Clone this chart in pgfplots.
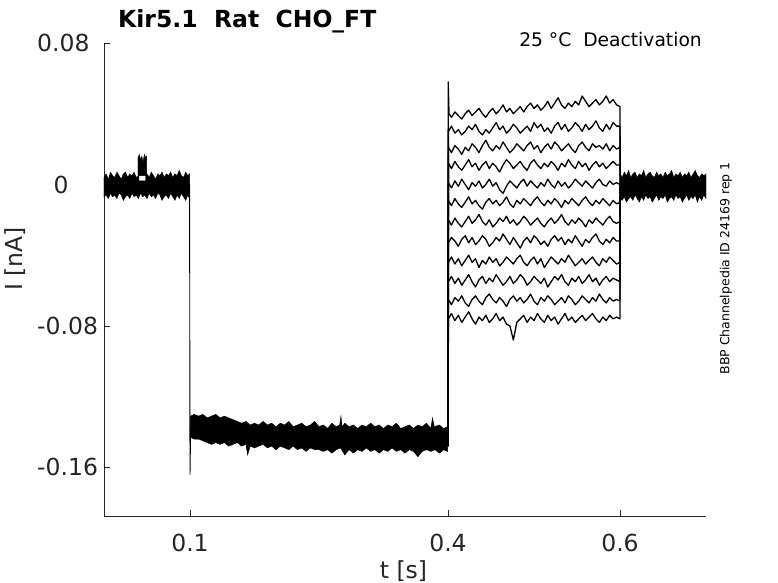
\documentclass[border=0pt]{standalone}
\usepackage{pgfplots}
\pgfplotsset{compat=1.18}
\usepackage{fontspec}
\setmainfont{DejaVu Sans}
\definecolor{axgray}{RGB}{38,38,38}
\newcommand\tickfont{\fontsize{23.5bp}{28bp}\selectfont}
\pgfplotsset{tr/.style={draw=black, line width=1.3bp, mark=none, line join=round},
             step/.style={draw=black, line width=0.9bp, mark=none, line join=round},
             band/.style={fill=black, draw=black, line width=0.4bp, mark=none}}
\begin{document}
\begin{tikzpicture}
\useasboundingbox (-104bp,-67bp) rectangle (674bp,516bp);
\begin{axis}[
  at={(0,0)}, anchor=south west,
  scale only axis, width=602bp, height=473bp,
  xmin=0, xmax=0.7, ymin=-0.1875, ymax=0.08,
  clip=false,
  axis lines=left,
  axis line style={-, draw=axgray, line width=0.6bp},
  tick align=inside,
  major tick length=6bp,
  tick style={draw=axgray, line width=0.6bp},
  xtick={0.1,0.4,0.6}, xticklabels={0.1,0.4,0.6},
  ytick={-0.16,-0.08,0,0.08},
  yticklabels={-0.16,-0.08,\hspace*{16.5bp}0,0.08},
  xticklabel style={font=\tickfont, text=axgray, inner sep=0pt, anchor=north, yshift=-18bp},
  yticklabel style={font=\tickfont, text=axgray, inner sep=0pt, anchor=west, xshift=-67bp},
  xlabel={t [s]},
  ylabel={I [nA]},
  every axis x label/.style={at={(axis description cs:0.4975,-0.1311)}, anchor=base, inner sep=0pt, font=\tickfont, text=axgray},
  every axis y label/.style={at={(axis description cs:-0.1362,0.5433)}, rotate=90, anchor=base, inner sep=0pt, font=\tickfont, text=axgray},
  title={Kir5.1~~Rat~~CHO\_FT},
  every axis title/.style={at={(axis description cs:0.02326,1.0338)}, anchor=base west, inner sep=0pt, font=\bfseries\tickfont, text=black},
]
% baseline band 0 - 0.1
\addplot[band] coordinates {(0,0.004)(0.0025,0.006)(0.005,0.003)(0.0075,0.007)(0.010,0.005)(0.0125,0.004)(0.015,0.007)(0.0175,0.005)(0.020,0.003)(0.0225,0.006)(0.025,0.007)(0.0275,0.004)(0.030,0.006)(0.0325,0.005)(0.035,0.007)(0.0375,0.004)(0.0405,0.005)(0.0405,0.002)(0.0485,0.002)(0.0485,0.005)(0.050,0.006)(0.0525,0.004)(0.055,0.007)(0.0575,0.005)(0.060,0.003)(0.0625,0.006)(0.065,0.005)(0.0675,0.007)(0.070,0.004)(0.0725,0.006)(0.075,0.005)(0.0775,0.007)(0.080,0.004)(0.0825,0.006)(0.085,0.005)(0.0875,0.008)(0.090,0.005)(0.0925,0.004)(0.095,0.007)(0.0975,0.005)(0.0995,0.006)
(0.0995,-0.008)(0.0975,-0.006)(0.095,-0.009)(0.0925,-0.007)(0.090,-0.005)(0.0875,-0.008)(0.085,-0.006)(0.0825,-0.009)(0.080,-0.007)(0.0775,-0.005)(0.075,-0.008)(0.0725,-0.006)(0.070,-0.007)(0.0675,-0.009)(0.065,-0.006)(0.0625,-0.005)(0.060,-0.008)(0.0575,-0.006)(0.055,-0.007)(0.0525,-0.005)(0.050,-0.008)(0.0475,-0.006)(0.045,-0.007)(0.0425,-0.005)(0.040,-0.008)(0.0375,-0.006)(0.035,-0.007)(0.0325,-0.005)(0.030,-0.008)(0.0275,-0.006)(0.025,-0.007)(0.0225,-0.009)(0.020,-0.006)(0.0175,-0.005)(0.015,-0.008)(0.0125,-0.006)(0.010,-0.007)(0.0075,-0.005)(0.005,-0.008)(0.0025,-0.006)(0,-0.007)} --cycle;
% bump
\addplot[band] coordinates {(0.0395,0.0050)(0.0395,0.015)(0.041,0.017)(0.0425,0.014)(0.044,0.016)(0.0455,0.013)(0.047,0.017)(0.0485,0.015)(0.0495,0.016)(0.0495,0.0050)} --cycle;
% step at 0.1
\addplot[step] coordinates {(0.0995,0.0)(0.1,-0.164)(0.1008,-0.138)};
% holding band 0.1 - 0.4
\addplot[band] coordinates {(0.1005,-0.131)(0.105,-0.130)(0.110,-0.131)(0.115,-0.130)(0.120,-0.132)(0.125,-0.131)(0.130,-0.130)(0.135,-0.132)(0.140,-0.131)(0.145,-0.132)(0.150,-0.133)(0.155,-0.134)(0.160,-0.135)(0.165,-0.134)(0.170,-0.136)(0.175,-0.135)(0.180,-0.136)(0.185,-0.134)(0.190,-0.136)(0.195,-0.135)(0.200,-0.137)(0.205,-0.135)(0.210,-0.136)(0.215,-0.134)(0.220,-0.137)(0.225,-0.136)(0.230,-0.135)(0.235,-0.137)(0.240,-0.136)(0.245,-0.134)(0.250,-0.137)(0.255,-0.136)(0.260,-0.138)(0.265,-0.135)(0.270,-0.137)(0.274,-0.136)(0.2755,-0.131)(0.277,-0.137)(0.280,-0.135)(0.285,-0.137)(0.290,-0.136)(0.295,-0.138)(0.300,-0.136)(0.305,-0.137)(0.310,-0.135)(0.315,-0.137)(0.320,-0.136)(0.325,-0.138)(0.330,-0.136)(0.335,-0.137)(0.340,-0.135)(0.345,-0.138)(0.350,-0.137)(0.355,-0.136)(0.360,-0.138)(0.365,-0.136)(0.370,-0.137)(0.375,-0.135)(0.380,-0.138)(0.382,-0.132)(0.384,-0.137)(0.390,-0.136)(0.395,-0.138)(0.3995,-0.137)
(0.3995,-0.151)(0.395,-0.150)(0.390,-0.152)(0.385,-0.150)(0.380,-0.151)(0.375,-0.150)(0.370,-0.151)(0.365,-0.154)(0.360,-0.151)(0.355,-0.150)(0.350,-0.152)(0.345,-0.150)(0.340,-0.151)(0.335,-0.149)(0.330,-0.151)(0.325,-0.150)(0.320,-0.152)(0.315,-0.150)(0.310,-0.151)(0.305,-0.149)(0.300,-0.151)(0.295,-0.150)(0.290,-0.152)(0.285,-0.150)(0.280,-0.153)(0.275,-0.149)(0.270,-0.150)(0.265,-0.152)(0.260,-0.150)(0.255,-0.151)(0.250,-0.150)(0.245,-0.150)(0.240,-0.149)(0.235,-0.151)(0.230,-0.149)(0.225,-0.150)(0.220,-0.148)(0.215,-0.150)(0.210,-0.149)(0.205,-0.148)(0.200,-0.150)(0.195,-0.148)(0.190,-0.149)(0.185,-0.147)(0.180,-0.148)(0.175,-0.149)(0.170,-0.148)(0.167,-0.153)(0.165,-0.147)(0.160,-0.148)(0.155,-0.146)(0.150,-0.147)(0.145,-0.148)(0.140,-0.146)(0.135,-0.147)(0.130,-0.146)(0.125,-0.147)(0.120,-0.146)(0.115,-0.145)(0.110,-0.144)(0.105,-0.144)(0.1005,-0.143)} --cycle;
% baseline band 0.6 - 0.7
\addplot[band] coordinates {(0.6003,0.006)(0.6025,0.004)(0.605,0.007)(0.6075,0.005)(0.610,0.008)(0.6125,0.004)(0.615,0.006)(0.6175,0.007)(0.620,0.004)(0.6225,0.006)(0.625,0.005)(0.6275,0.008)(0.630,0.004)(0.6325,0.006)(0.635,0.007)(0.6375,0.005)(0.640,0.004)(0.6425,0.007)(0.645,0.005)(0.6475,0.006)(0.650,0.004)(0.6525,0.007)(0.655,0.005)(0.6575,0.006)(0.660,0.008)(0.6625,0.004)(0.665,0.006)(0.6675,0.005)(0.670,0.007)(0.6725,0.004)(0.675,0.006)(0.6775,0.005)(0.680,0.007)(0.6825,0.004)(0.685,0.006)(0.6875,0.008)(0.690,0.005)(0.6925,0.004)(0.695,0.006)(0.6975,0.005)(0.700,0.006)
(0.700,-0.008)(0.6975,-0.006)(0.695,-0.009)(0.6925,-0.007)(0.690,-0.010)(0.6875,-0.006)(0.685,-0.008)(0.6825,-0.007)(0.680,-0.009)(0.6775,-0.006)(0.675,-0.008)(0.6725,-0.010)(0.670,-0.007)(0.6675,-0.008)(0.665,-0.006)(0.6625,-0.009)(0.660,-0.007)(0.6575,-0.008)(0.655,-0.010)(0.6525,-0.006)(0.650,-0.008)(0.6475,-0.007)(0.645,-0.009)(0.6425,-0.006)(0.640,-0.008)(0.6375,-0.010)(0.635,-0.007)(0.6325,-0.008)(0.630,-0.006)(0.6275,-0.009)(0.625,-0.007)(0.6225,-0.010)(0.620,-0.008)(0.6175,-0.006)(0.615,-0.009)(0.6125,-0.007)(0.610,-0.008)(0.6075,-0.010)(0.605,-0.007)(0.6025,-0.009)(0.6003,-0.008)} --cycle;
% deactivation traces
\addplot[tr] coordinates {(0.400,-0.148)(0.4002,0.058)(0.4012,0.040)(0.404,0.038)(0.408,0.041)(0.412,0.039)(0.416,0.037)(0.420,0.040)(0.424,0.042)(0.428,0.039)(0.432,0.041)(0.436,0.043)(0.440,0.040)(0.444,0.038)(0.448,0.041)(0.452,0.043)(0.456,0.040)(0.460,0.042)(0.464,0.045)(0.468,0.041)(0.472,0.043)(0.476,0.040)(0.480,0.042)(0.484,0.044)(0.488,0.041)(0.492,0.044)(0.496,0.046)(0.500,0.043)(0.504,0.045)(0.508,0.042)(0.512,0.044)(0.516,0.047)(0.520,0.043)(0.524,0.046)(0.528,0.049)(0.532,0.045)(0.536,0.043)(0.540,0.046)(0.544,0.044)(0.548,0.047)(0.552,0.045)(0.556,0.050)(0.560,0.047)(0.564,0.044)(0.568,0.046)(0.572,0.048)(0.576,0.045)(0.580,0.047)(0.584,0.050)(0.588,0.046)(0.592,0.048)(0.596,0.045)(0.600,0.044)(0.6003,0.0)};
\addplot[tr] coordinates {(0.400,-0.148)(0.4005,0.030)(0.404,0.033)(0.408,0.029)(0.412,0.031)(0.416,0.028)(0.420,0.030)(0.424,0.033)(0.428,0.031)(0.432,0.034)(0.436,0.030)(0.440,0.028)(0.444,0.031)(0.448,0.029)(0.452,0.032)(0.456,0.035)(0.460,0.031)(0.464,0.033)(0.468,0.029)(0.472,0.031)(0.476,0.034)(0.480,0.032)(0.484,0.029)(0.488,0.031)(0.492,0.033)(0.496,0.030)(0.500,0.035)(0.504,0.032)(0.508,0.034)(0.512,0.030)(0.516,0.032)(0.520,0.029)(0.524,0.033)(0.528,0.035)(0.532,0.031)(0.536,0.034)(0.540,0.030)(0.544,0.032)(0.548,0.035)(0.552,0.033)(0.556,0.030)(0.560,0.034)(0.564,0.031)(0.568,0.033)(0.572,0.036)(0.576,0.032)(0.580,0.030)(0.584,0.034)(0.588,0.031)(0.592,0.035)(0.596,0.033)(0.600,0.033)(0.6003,0.0)};
\addplot[tr] coordinates {(0.400,-0.148)(0.4005,0.021)(0.404,0.018)(0.408,0.022)(0.412,0.020)(0.416,0.017)(0.420,0.021)(0.424,0.019)(0.428,0.023)(0.432,0.021)(0.436,0.018)(0.440,0.022)(0.444,0.025)(0.448,0.021)(0.452,0.019)(0.456,0.022)(0.460,0.020)(0.464,0.024)(0.468,0.021)(0.472,0.018)(0.476,0.020)(0.480,0.023)(0.484,0.021)(0.488,0.019)(0.492,0.022)(0.496,0.024)(0.500,0.020)(0.504,0.022)(0.508,0.018)(0.512,0.021)(0.516,0.023)(0.520,0.020)(0.524,0.024)(0.528,0.022)(0.532,0.019)(0.536,0.021)(0.540,0.023)(0.544,0.020)(0.548,0.018)(0.552,0.022)(0.556,0.024)(0.560,0.021)(0.564,0.019)(0.568,0.023)(0.572,0.021)(0.576,0.022)(0.580,0.020)(0.584,0.023)(0.588,0.019)(0.592,0.022)(0.596,0.020)(0.600,0.021)(0.6003,0.0)};
\addplot[tr] coordinates {(0.400,-0.148)(0.4005,0.012)(0.404,0.009)(0.408,0.013)(0.412,0.010)(0.416,0.008)(0.420,0.011)(0.424,0.014)(0.428,0.010)(0.432,0.012)(0.436,0.008)(0.440,0.011)(0.444,0.013)(0.448,0.009)(0.452,0.012)(0.456,0.010)(0.460,0.007)(0.464,0.011)(0.468,0.014)(0.472,0.012)(0.476,0.009)(0.480,0.011)(0.484,0.013)(0.488,0.010)(0.492,0.008)(0.496,0.012)(0.500,0.014)(0.504,0.011)(0.508,0.009)(0.512,0.012)(0.516,0.010)(0.520,0.013)(0.524,0.011)(0.528,0.008)(0.532,0.012)(0.536,0.010)(0.540,0.014)(0.544,0.011)(0.548,0.009)(0.552,0.013)(0.556,0.010)(0.560,0.012)(0.564,0.008)(0.568,0.011)(0.572,0.013)(0.576,0.010)(0.580,0.012)(0.584,0.009)(0.588,0.011)(0.592,0.013)(0.596,0.011)(0.600,0.011)(0.6003,0.0)};
\addplot[tr] coordinates {(0.400,-0.148)(0.4005,0.001)(0.404,-0.002)(0.408,0.002)(0.412,-0.001)(0.416,0.003)(0.420,0.000)(0.424,-0.003)(0.428,0.001)(0.432,-0.001)(0.436,0.002)(0.440,-0.002)(0.444,0.000)(0.448,0.003)(0.452,-0.001)(0.456,0.001)(0.460,-0.003)(0.464,-0.005)(0.468,-0.001)(0.472,0.002)(0.476,0.000)(0.480,-0.002)(0.484,0.001)(0.488,0.003)(0.492,-0.001)(0.496,0.002)(0.500,0.000)(0.504,-0.002)(0.508,0.001)(0.512,-0.001)(0.516,0.003)(0.520,0.000)(0.524,-0.002)(0.528,0.002)(0.532,-0.001)(0.536,0.001)(0.540,-0.002)(0.544,0.000)(0.548,0.003)(0.552,0.001)(0.556,-0.001)(0.560,0.002)(0.564,0.000)(0.568,-0.002)(0.572,0.001)(0.576,0.003)(0.580,0.000)(0.584,-0.001)(0.588,0.002)(0.592,0.000)(0.596,0.001)(0.600,0.000)(0.6003,0.0)};
\addplot[tr] coordinates {(0.400,-0.148)(0.4005,-0.009)(0.404,-0.012)(0.408,-0.008)(0.412,-0.011)(0.416,-0.013)(0.420,-0.010)(0.424,-0.007)(0.428,-0.011)(0.432,-0.009)(0.436,-0.012)(0.440,-0.014)(0.444,-0.010)(0.448,-0.008)(0.452,-0.011)(0.456,-0.009)(0.460,-0.012)(0.464,-0.010)(0.468,-0.007)(0.472,-0.011)(0.476,-0.013)(0.480,-0.009)(0.484,-0.011)(0.488,-0.008)(0.492,-0.010)(0.496,-0.012)(0.500,-0.009)(0.504,-0.007)(0.508,-0.010)(0.512,-0.012)(0.516,-0.009)(0.520,-0.011)(0.524,-0.008)(0.528,-0.010)(0.532,-0.013)(0.536,-0.009)(0.540,-0.011)(0.544,-0.008)(0.548,-0.010)(0.552,-0.012)(0.556,-0.009)(0.560,-0.007)(0.564,-0.010)(0.568,-0.012)(0.572,-0.009)(0.576,-0.011)(0.580,-0.008)(0.584,-0.010)(0.588,-0.012)(0.592,-0.009)(0.596,-0.011)(0.600,-0.010)(0.6003,0.0)};
\addplot[tr] coordinates {(0.400,-0.148)(0.4005,-0.020)(0.404,-0.023)(0.408,-0.019)(0.412,-0.022)(0.416,-0.024)(0.420,-0.021)(0.424,-0.018)(0.428,-0.022)(0.432,-0.020)(0.436,-0.017)(0.440,-0.021)(0.444,-0.023)(0.448,-0.020)(0.452,-0.024)(0.456,-0.022)(0.460,-0.019)(0.464,-0.021)(0.468,-0.018)(0.472,-0.022)(0.476,-0.020)(0.480,-0.023)(0.484,-0.021)(0.488,-0.018)(0.492,-0.020)(0.496,-0.023)(0.500,-0.021)(0.504,-0.019)(0.508,-0.022)(0.512,-0.024)(0.516,-0.021)(0.520,-0.019)(0.524,-0.022)(0.528,-0.020)(0.532,-0.017)(0.536,-0.021)(0.540,-0.023)(0.544,-0.020)(0.548,-0.022)(0.552,-0.019)(0.556,-0.021)(0.560,-0.024)(0.564,-0.020)(0.568,-0.022)(0.572,-0.019)(0.576,-0.021)(0.580,-0.023)(0.584,-0.020)(0.588,-0.018)(0.592,-0.021)(0.596,-0.022)(0.600,-0.021)(0.6003,0.0)};
\addplot[tr] coordinates {(0.400,-0.148)(0.4005,-0.033)(0.404,-0.030)(0.408,-0.032)(0.412,-0.035)(0.416,-0.031)(0.420,-0.029)(0.424,-0.033)(0.428,-0.030)(0.432,-0.034)(0.436,-0.032)(0.440,-0.029)(0.444,-0.031)(0.448,-0.035)(0.452,-0.033)(0.456,-0.030)(0.460,-0.032)(0.464,-0.028)(0.468,-0.031)(0.472,-0.034)(0.476,-0.030)(0.480,-0.033)(0.484,-0.036)(0.488,-0.032)(0.492,-0.030)(0.496,-0.033)(0.500,-0.029)(0.504,-0.031)(0.508,-0.034)(0.512,-0.032)(0.516,-0.035)(0.520,-0.031)(0.524,-0.029)(0.528,-0.032)(0.532,-0.030)(0.536,-0.034)(0.540,-0.031)(0.544,-0.033)(0.548,-0.029)(0.552,-0.032)(0.556,-0.035)(0.560,-0.031)(0.564,-0.033)(0.568,-0.030)(0.572,-0.028)(0.576,-0.032)(0.580,-0.034)(0.584,-0.031)(0.588,-0.033)(0.592,-0.030)(0.596,-0.032)(0.600,-0.032)(0.6003,0.0)};
\addplot[tr] coordinates {(0.400,-0.148)(0.4005,-0.044)(0.404,-0.041)(0.408,-0.045)(0.412,-0.042)(0.416,-0.046)(0.420,-0.043)(0.424,-0.040)(0.428,-0.044)(0.432,-0.042)(0.436,-0.047)(0.440,-0.043)(0.444,-0.045)(0.448,-0.041)(0.452,-0.044)(0.456,-0.042)(0.460,-0.046)(0.464,-0.044)(0.468,-0.041)(0.472,-0.043)(0.476,-0.045)(0.480,-0.042)(0.484,-0.040)(0.488,-0.044)(0.492,-0.046)(0.496,-0.043)(0.500,-0.041)(0.504,-0.045)(0.508,-0.042)(0.512,-0.047)(0.516,-0.044)(0.520,-0.041)(0.524,-0.043)(0.528,-0.045)(0.532,-0.042)(0.536,-0.044)(0.540,-0.040)(0.544,-0.043)(0.548,-0.046)(0.552,-0.044)(0.556,-0.042)(0.560,-0.045)(0.564,-0.043)(0.568,-0.041)(0.572,-0.044)(0.576,-0.046)(0.580,-0.042)(0.584,-0.044)(0.588,-0.041)(0.592,-0.043)(0.596,-0.045)(0.600,-0.044)(0.6003,0.0)};
\addplot[tr] coordinates {(0.400,-0.148)(0.4005,-0.055)(0.404,-0.052)(0.408,-0.056)(0.412,-0.053)(0.416,-0.057)(0.420,-0.054)(0.424,-0.051)(0.428,-0.055)(0.432,-0.058)(0.436,-0.054)(0.440,-0.052)(0.444,-0.056)(0.448,-0.053)(0.452,-0.055)(0.456,-0.051)(0.460,-0.054)(0.464,-0.057)(0.468,-0.055)(0.472,-0.052)(0.476,-0.056)(0.480,-0.054)(0.484,-0.051)(0.488,-0.053)(0.492,-0.057)(0.496,-0.055)(0.500,-0.052)(0.504,-0.054)(0.508,-0.056)(0.512,-0.053)(0.516,-0.058)(0.520,-0.055)(0.524,-0.052)(0.528,-0.054)(0.532,-0.051)(0.536,-0.055)(0.540,-0.057)(0.544,-0.053)(0.548,-0.055)(0.552,-0.052)(0.556,-0.056)(0.560,-0.054)(0.564,-0.051)(0.568,-0.055)(0.572,-0.053)(0.576,-0.057)(0.580,-0.054)(0.584,-0.052)(0.588,-0.055)(0.592,-0.053)(0.596,-0.054)(0.600,-0.055)(0.6003,0.0)};
\addplot[tr] coordinates {(0.400,-0.148)(0.4005,-0.065)(0.404,-0.068)(0.408,-0.064)(0.412,-0.066)(0.416,-0.063)(0.420,-0.067)(0.424,-0.069)(0.428,-0.065)(0.432,-0.063)(0.436,-0.066)(0.440,-0.068)(0.444,-0.064)(0.448,-0.062)(0.452,-0.065)(0.456,-0.067)(0.460,-0.064)(0.464,-0.066)(0.468,-0.069)(0.472,-0.065)(0.476,-0.063)(0.480,-0.066)(0.484,-0.064)(0.488,-0.067)(0.492,-0.065)(0.496,-0.062)(0.500,-0.066)(0.504,-0.068)(0.508,-0.064)(0.512,-0.066)(0.516,-0.063)(0.520,-0.065)(0.524,-0.068)(0.528,-0.066)(0.532,-0.064)(0.536,-0.067)(0.540,-0.063)(0.544,-0.065)(0.548,-0.068)(0.552,-0.066)(0.556,-0.063)(0.560,-0.065)(0.564,-0.067)(0.568,-0.064)(0.572,-0.066)(0.576,-0.062)(0.580,-0.065)(0.584,-0.067)(0.588,-0.064)(0.592,-0.066)(0.596,-0.065)(0.600,-0.066)(0.6003,0.0)};
\addplot[tr] coordinates {(0.400,-0.148)(0.4005,-0.076)(0.404,-0.073)(0.408,-0.077)(0.412,-0.074)(0.416,-0.078)(0.420,-0.075)(0.424,-0.072)(0.428,-0.076)(0.432,-0.079)(0.436,-0.075)(0.440,-0.077)(0.444,-0.074)(0.448,-0.078)(0.452,-0.076)(0.456,-0.073)(0.460,-0.077)(0.464,-0.075)(0.468,-0.079)(0.472,-0.080)(0.476,-0.088)(0.480,-0.078)(0.484,-0.076)(0.488,-0.074)(0.492,-0.078)(0.496,-0.075)(0.500,-0.077)(0.504,-0.073)(0.508,-0.076)(0.512,-0.078)(0.516,-0.074)(0.520,-0.077)(0.524,-0.075)(0.528,-0.079)(0.532,-0.076)(0.536,-0.073)(0.540,-0.077)(0.544,-0.075)(0.548,-0.078)(0.552,-0.076)(0.556,-0.074)(0.560,-0.077)(0.564,-0.075)(0.568,-0.073)(0.572,-0.076)(0.576,-0.078)(0.580,-0.075)(0.584,-0.077)(0.588,-0.074)(0.592,-0.076)(0.596,-0.075)(0.600,-0.076)(0.6003,0.0)};
\node[anchor=base east, inner sep=0pt, font=\fontsize{18.7bp}{22bp}\selectfont, text=black] at (axis description cs:0.99336,0.99239) {25 °C~~Deactivation};
\node[rotate=90, anchor=center, inner sep=0pt, font=\fontsize{12.5bp}{15bp}\selectfont, text=black] at (axis description cs:1.0332,0.5233) {BBP Channelpedia ID 24169 rep 1};
\end{axis}
\end{tikzpicture}
\end{document}
